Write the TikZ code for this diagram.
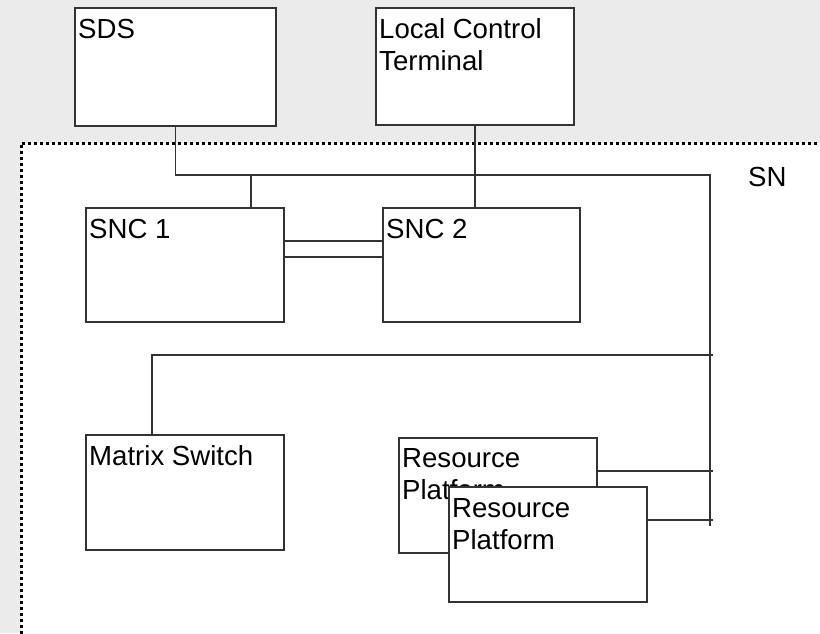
\documentclass[tikz,border=0pt]{standalone}
\usepackage{fontspec}
\setmainfont{Liberation Sans}
\usetikzlibrary{calc}
\definecolor{pagegray}{HTML}{EBEBEB}
\definecolor{edge}{HTML}{333333}
\tikzset{
  unitbox/.style={draw=edge, line width=1.1pt, fill=white, rectangle,
    anchor=north west, inner sep=0pt, outer sep=0pt},
  boxlabel/.style={anchor=base west, inner sep=0pt, align=left,
    font=\fontsize{27.6pt}{32pt}\selectfont},
  wire/.style={draw=edge, line width=1.1pt},
  snborder/.style={draw=black, line width=3pt, dash pattern=on 3pt off 3pt}
}
\begin{document}
\begin{tikzpicture}[x=1pt,y=-1pt]
  \useasboundingbox (0,0) rectangle (820,633);
  % page background and the SN domain
  \fill[pagegray] (0,0) rectangle (820,633);
  \fill[white] (21,143) rectangle (820,640);
  \draw[snborder] (21,640) -- (21,143) -- (822,143);
  \node[boxlabel] (snlbl) at (748,186) {SN};

  % boxes (two-line captions sit on the baseline of their last line)
  \node[unitbox, minimum width=201pt, minimum height=118pt] (sds) at (75,8) {};
  \node[unitbox, minimum width=198pt, minimum height=117pt] (lct) at (376,8) {};
  \node[unitbox, minimum width=198pt, minimum height=114pt] (snc1) at (86,208) {};
  \node[unitbox, minimum width=197pt, minimum height=114pt] (snc2) at (383,208) {};
  \node[unitbox, minimum width=198pt, minimum height=115pt] (mx) at (86,435) {};
  \node[unitbox, minimum width=198pt, minimum height=115pt] (rp1) at (399,438) {};
  \node[boxlabel] (rp1lbl) at ($(rp1.north west)+(3,61)$) {Resource\\Platform};
  \node[unitbox, minimum width=198pt, minimum height=115pt] (rp2) at (449,487) {};

  % box captions
  \node[boxlabel] (sdslbl) at ($(sds.north west)+(3,30)$) {SDS};
  \node[boxlabel] (lctlbl) at ($(lct.north west)+(3,62)$) {Local Control\\Terminal};
  \node[boxlabel] (snc1lbl) at ($(snc1.north west)+(3,30)$) {SNC 1};
  \node[boxlabel] (snc2lbl) at ($(snc2.north west)+(3,30)$) {SNC 2};
  \node[boxlabel] (mxlbl) at ($(mx.north west)+(3,30)$) {Matrix Switch};
  \node[boxlabel] (rp2lbl) at ($(rp2.north west)+(3,62)$) {Resource\\Platform};

  % bus points
  \coordinate (busA) at (710,175);
  \coordinate (busB) at (710,526);
  \coordinate (tapC) at (713,355);
  \coordinate (tapD) at (713,471);
  \coordinate (tapE) at (713,520);

  % connectors
  \draw[wire] (sds.south) |- (busA) -- (busB);
  \draw[wire] ($(snc1.north west)+(165,0)$) -- ++(0,-33);
  \draw[wire] (lct.south) -- (lct.south |- snc2.north);
  \draw[wire] ($(snc1.north east)+(0,33)$) -- ($(snc2.north west)+(0,33)$);
  \draw[wire] ($(snc1.north east)+(0,49)$) -- ($(snc2.north west)+(0,49)$);
  \draw[wire] ($(mx.north west)+(66,0)$) |- (tapC);
  \draw[wire] ($(rp1.north east)+(0,33)$) -- (tapD);
  \draw[wire] ($(rp2.north east)+(0,33)$) -- (tapE);
\end{tikzpicture}
\end{document}
